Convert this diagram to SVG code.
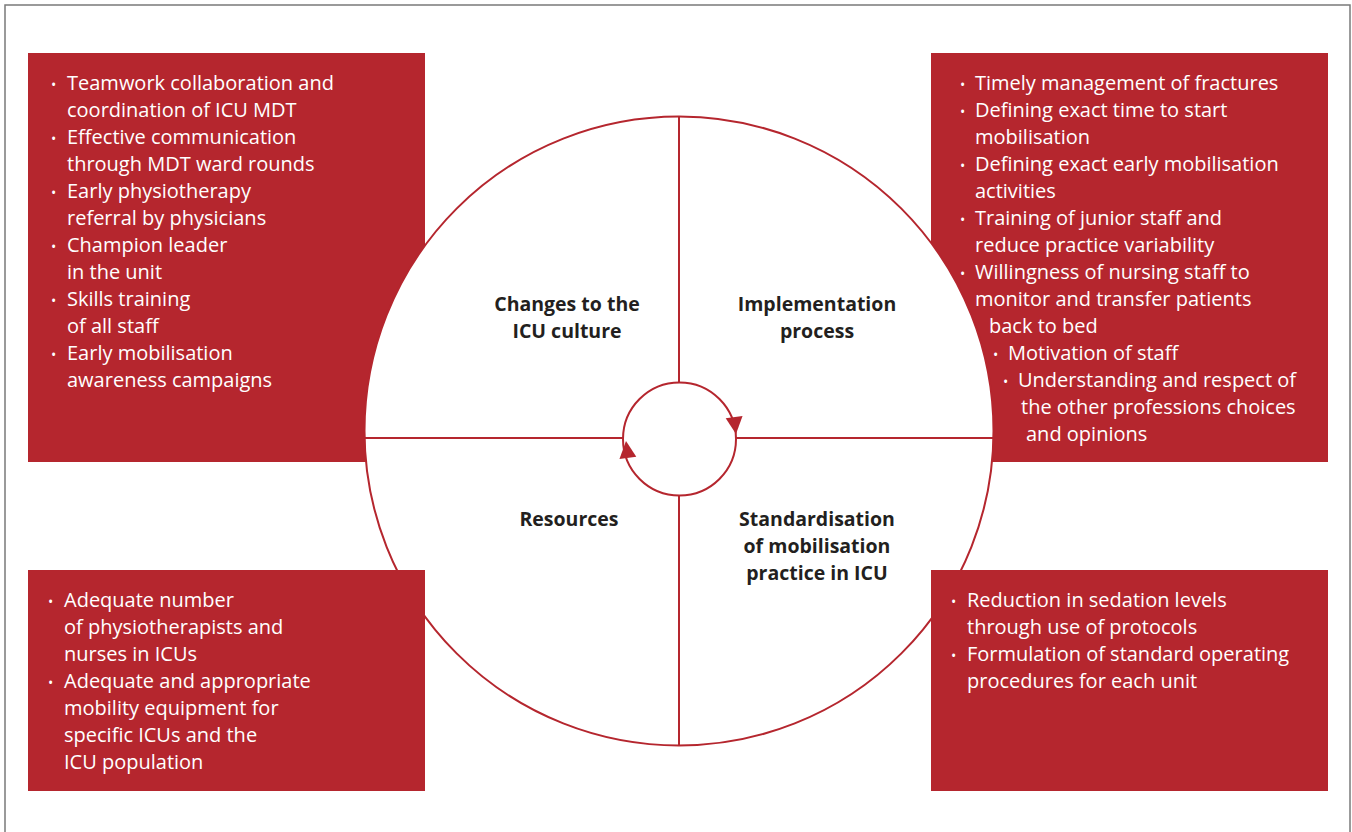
<svg xmlns="http://www.w3.org/2000/svg" width="1352" height="832" viewBox="0 0 1352 832">
  <style>
    .box { fill: #B5262E; }
    .item { font-family: "Open Sans", "Noto Sans", sans-serif; font-size: 20px; fill: #ffffff; }
    .dot { font-family: "Open Sans", "Noto Sans", sans-serif; font-size: 14px; fill: #ffffff; }
    .label { font-family: "Open Sans", "Noto Sans", sans-serif; font-size: 19.5px; font-weight: 700; fill: #231f20; text-anchor: middle; }
    .ring { fill: #ffffff; stroke: #B5262E; stroke-width: 2; }
    .axis { stroke: #B5262E; stroke-width: 2; fill: none; }
    .head { fill: #B5262E; }
  </style>
  <defs>
    <polygon id="tri" points="0,0 -8,-17 9,-17"/>
  </defs>

  <rect x="0" y="0" width="1352" height="832" fill="#ffffff"/>
  <rect x="5" y="5" width="1345" height="840" fill="none" stroke="#7a7a7a" stroke-width="1.5"/>

  <!-- upper boxes sit beneath the wheel -->
  <g id="box-culture">
    <rect class="box" x="28" y="53" width="397" height="409"/>
    <g class="item">
      <text class="dot" x="51" y="90">•</text><text x="67" y="90">Teamwork collaboration and</text>
      <text x="67" y="117">coordination of ICU MDT</text>
      <text class="dot" x="51" y="144">•</text><text x="67" y="144">Effective communication</text>
      <text x="67" y="171">through MDT ward rounds</text>
      <text class="dot" x="51" y="198">•</text><text x="67" y="198">Early physiotherapy</text>
      <text x="67" y="225">referral by physicians</text>
      <text class="dot" x="51" y="252">•</text><text x="67" y="252">Champion leader</text>
      <text x="67" y="279">in the unit</text>
      <text class="dot" x="51" y="306">•</text><text x="67" y="306">Skills training</text>
      <text x="67" y="333">of all staff</text>
      <text class="dot" x="51" y="360">•</text><text x="67" y="360">Early mobilisation</text>
      <text x="67" y="387">awareness campaigns</text>
    </g>
  </g>

  <g id="box-implementation">
    <rect class="box" x="931" y="53" width="397" height="409"/>
    <g class="item">
      <text class="dot" x="960" y="90">•</text><text x="975" y="90">Timely management of fractures</text>
      <text class="dot" x="960" y="117">•</text><text x="975" y="117">Defining exact time to start</text>
      <text x="975" y="144">mobilisation</text>
      <text class="dot" x="960" y="171">•</text><text x="975" y="171">Defining exact early mobilisation</text>
      <text x="975" y="198">activities</text>
      <text class="dot" x="960" y="225">•</text><text x="975" y="225">Training of junior staff and</text>
      <text x="975" y="252">reduce practice variability</text>
      <text class="dot" x="960" y="279">•</text><text x="975" y="279">Willingness of nursing staff to</text>
      <text x="975" y="306">monitor and transfer patients</text>
      <text x="989" y="333">back to bed</text>
      <text class="dot" x="993" y="360">•</text><text x="1008" y="360">Motivation of staff</text>
      <text class="dot" x="1003" y="387">•</text><text x="1018" y="387">Understanding and respect of</text>
      <text x="1021" y="414">the other professions choices</text>
      <text x="1026" y="441">and opinions</text>
    </g>
  </g>

  <!-- the wheel -->
  <g id="wheel">
    <circle class="ring" cx="679" cy="431" r="314.5"/>
  </g>

  <g id="connectors">
    <line class="axis" x1="679" y1="116.5" x2="679" y2="745.5"/>
    <line class="axis" x1="365" y1="438" x2="993" y2="438"/>
    <circle class="ring" cx="679.5" cy="439" r="56.5"/>
    <use href="#tri" class="head" transform="translate(736,434) rotate(-8)"/>
    <use href="#tri" class="head" transform="translate(626,441) rotate(172)"/>
  </g>

  <!-- lower boxes sit above the wheel -->
  <g id="box-resources">
    <rect class="box" x="28" y="570" width="397" height="221"/>
    <g class="item">
      <text class="dot" x="48" y="607">•</text><text x="64" y="607">Adequate number</text>
      <text x="64" y="634">of physiotherapists and</text>
      <text x="64" y="661">nurses in ICUs</text>
      <text class="dot" x="48" y="688">•</text><text x="64" y="688">Adequate and appropriate</text>
      <text x="64" y="715">mobility equipment for</text>
      <text x="64" y="742">specific ICUs and the</text>
      <text x="64" y="769">ICU population</text>
    </g>
  </g>

  <g id="box-standardisation">
    <rect class="box" x="931" y="570" width="397" height="221"/>
    <g class="item">
      <text class="dot" x="951" y="607">•</text><text x="967" y="607">Reduction in sedation levels</text>
      <text x="967" y="634">through use of protocols</text>
      <text class="dot" x="951" y="661">•</text><text x="967" y="661">Formulation of standard operating</text>
      <text x="967" y="688">procedures for each unit</text>
    </g>
  </g>

  <g id="label-culture">
    <text class="label" x="567" y="311">Changes to the</text>
    <text class="label" x="567" y="338">ICU culture</text>
  </g>
  <g id="label-implementation">
    <text class="label" x="817" y="311">Implementation</text>
    <text class="label" x="817" y="338">process</text>
  </g>
  <g id="label-resources">
    <text class="label" x="569" y="526">Resources</text>
  </g>
  <g id="label-standardisation">
    <text class="label" x="817" y="526">Standardisation</text>
    <text class="label" x="817" y="553">of mobilisation</text>
    <text class="label" x="817" y="580">practice in ICU</text>
  </g>
</svg>
